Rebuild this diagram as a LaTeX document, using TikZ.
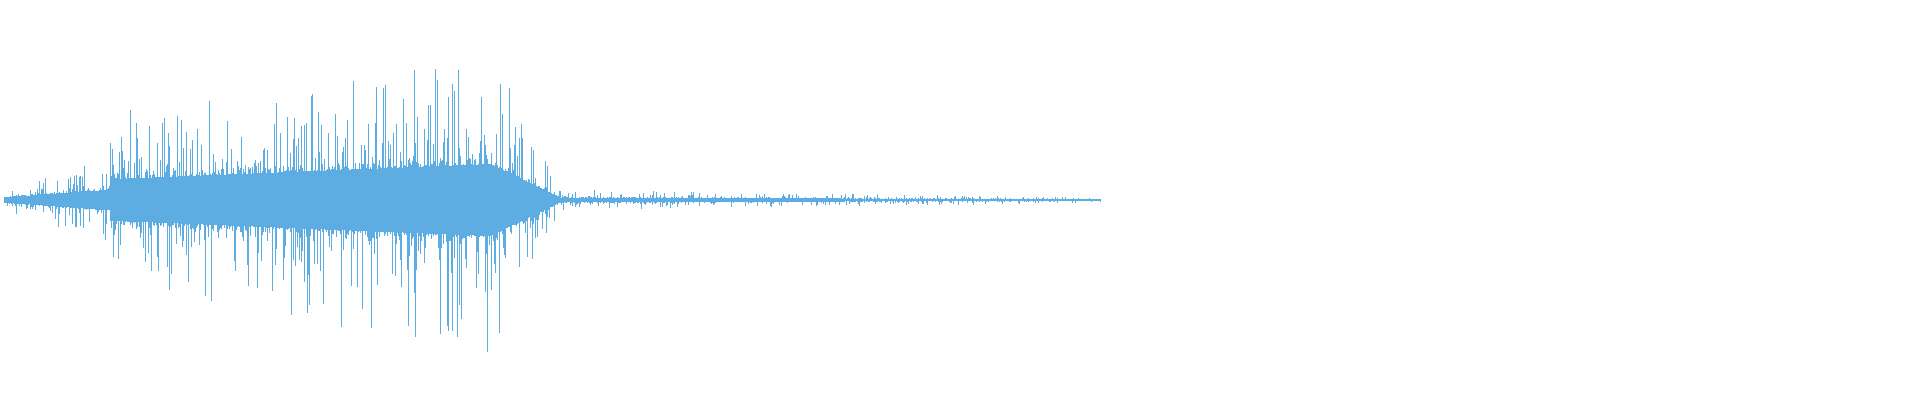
\documentclass[tikz,border=0pt]{standalone}
\definecolor{wave}{HTML}{5DADE2}
\begin{document}
\begin{tikzpicture}[x=1pt,y=1pt,wv/.style={draw=wave,line width=0.6pt}]
\useasboundingbox (0,0) rectangle (1920,400);
\pgfmathsetseed{4242}
\foreach \i in {4,5,...,1100}{
  \ifnum\i<110 \pgfmathsetmacro\env{3+0.09*\i}\else
  \ifnum\i<490 \pgfmathsetmacro\env{26+0.05*(\i-110)}\else
  \ifnum\i<560 \pgfmathsetmacro\env{45-0.6*(\i-490)}\else
  \pgfmathsetmacro\env{max(0.8,3-0.004*(\i-560))}\fi\fi\fi
  \pgfmathsetmacro\a{\env*(0.3+0.7*rnd)}
  \pgfmathsetmacro\b{\env*(0.3+0.7*rnd)}
  \pgfmathsetmacro\c{\env*(0.8+2.6*pow(rnd,6))}
  \pgfmathsetmacro\d{\env*(0.8+2.6*pow(rnd,6))}
  \path[wv] (\i,200+\a) -- (\i,200-\b);
  \path[wv,line width=0.35pt] (\i+0.5,200+\c) -- (\i+0.5,200-\d);
}
\end{tikzpicture}
\end{document}
